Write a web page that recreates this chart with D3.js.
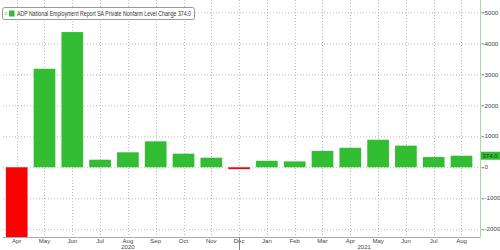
<!DOCTYPE html>
<html><head><meta charset="utf-8">
<script src="https://cdn.jsdelivr.net/npm/d3@7"></script>
<style>body{margin:0;background:#fff}svg{display:block}text{font-family:"Liberation Sans Narrow","Liberation Sans",Arial,sans-serif}</style>
</head><body><div id="c"></div>
<script>
const months = ["Apr","May","Jun","Jul","Aug","Sep","Oct","Nov","Dec","Jan","Feb","Mar","Apr","May","Jun","Jul","Aug"];
const years = ["2020","2020","2020","2020","2020","2020","2020","2020","2020","2021","2021","2021","2021","2021","2021","2021","2021"];
const values = [-19500,3180,4365,245,484,838,440,310,-60,210,190,530,630,890,700,330,374];
const yTicks = [-2000,-1000,0,1000,2000,3000,4000,5000];
const seriesName = "ADP National Employment Report SA Private Nonfarm Level Change 374.0";
const lastLabel = "374.0";

const W=500,H=250;
const plot={l:3,r:480.5,t:0,b:237};
const svg=d3.select("#c").append("svg").attr("width",W).attr("height",H);
const keys=months.map((m,i)=>i);
const x=d3.scaleBand().domain(keys).range([2.8,475.4]).paddingInner(0.22).paddingOuter(0.11);
const y=d3.scaleLinear().domain([-2250,5400]).range([plot.b,plot.t]);

svg.append("defs").append("clipPath").attr("id","cp").append("rect")
  .attr("x",plot.l).attr("y",plot.t).attr("width",plot.r-plot.l).attr("height",plot.b-plot.t);

// grid
const g=svg.append("g");
g.selectAll("line.h").data(yTicks).join("line")
  .attr("x1",plot.l).attr("x2",plot.r).attr("y1",d=>y(d)+0.5).attr("y2",d=>y(d)+0.5)
  .attr("stroke","#b8b8b8").attr("stroke-width",1).attr("stroke-dasharray","1,2");
g.selectAll("line.v").data(keys).join("line")
  .attr("x1",d=>Math.round(x(d)+x.bandwidth()/2)+0.5).attr("x2",d=>Math.round(x(d)+x.bandwidth()/2)+0.5)
  .attr("y1",plot.t).attr("y2",plot.b)
  .attr("stroke","#b8b8b8").attr("stroke-width",1).attr("stroke-dasharray","1,2");

// bars
svg.append("g").attr("clip-path","url(#cp)").selectAll("rect").data(keys).join("rect")
  .attr("x",d=>x(d)).attr("width",x.bandwidth())
  .attr("y",d=>y(Math.max(0,values[d])))
  .attr("height",d=>Math.max(1.5,Math.abs(y(values[d])-y(0))))
  .attr("fill",d=>values[d]<0?"#ff0000":"#32bd32");

// bottom axis
svg.append("line").attr("x1",plot.l).attr("x2",plot.r).attr("y1",plot.b+0.5).attr("y2",plot.b+0.5).attr("stroke","#aaa");
// right axis
svg.append("line").attr("x1",plot.r).attr("x2",plot.r).attr("y1",plot.t).attr("y2",plot.b).attr("stroke","#a8d8a8");
const ya=svg.append("g");
ya.selectAll("line").data(yTicks).join("line")
  .attr("x1",plot.r+1).attr("x2",plot.r+3.5).attr("y1",d=>y(d)+0.5).attr("y2",d=>y(d)+0.5).attr("stroke","#777");
ya.selectAll("text").data(yTicks).join("text")
  .attr("x",plot.r+4).attr("y",d=>y(d)).attr("dy","0.35em").attr("font-size",6.2).attr("fill","#444").text(d=>d);

// month labels
svg.append("g").selectAll("text").data(keys).join("text")
  .attr("x",d=>x(d)+x.bandwidth()/2).attr("y",242.5).attr("text-anchor","middle")
  .attr("font-size",6).attr("fill","#444").text(d=>months[d]);
// year labels
const yrs=d3.groups(keys,d=>years[d]);
svg.append("g").selectAll("text").data(yrs).join("text")
  .attr("x",d=>(x(d[1][0])+x(d[1][d[1].length-1])+x.bandwidth())/2).attr("y",249)
  .attr("text-anchor","middle").attr("font-size",6).attr("fill","#444").text(d=>d[0]);
// year separator at Dec
const sepIdx=keys.find(i=>i>0&&years[i]!==years[i-1])-1;
svg.append("line").attr("x1",Math.round(x(sepIdx)+x.bandwidth()/2)+0.5).attr("x2",Math.round(x(sepIdx)+x.bandwidth()/2)+0.5)
  .attr("y1",plot.b).attr("y2",H).attr("stroke","#888");

// last value label
const ly=y(values[values.length-1]);
svg.append("rect").attr("x",plot.r+0.5).attr("y",ly-4).attr("width",19).attr("height",8).attr("fill","#32bd32");
svg.append("text").attr("x",plot.r+2).attr("y",ly).attr("dy","0.35em").attr("font-size",6).attr("fill","#1a3a1a").text(lastLabel);

// legend
const lg=svg.append("g");
lg.append("rect").attr("x",2.5).attr("y",7.5).attr("width",192).attr("height",12).attr("rx",2)
  .attr("fill","#fff").attr("stroke","#999");
lg.append("text").attr("x",4.5).attr("y",13.5).attr("dy","0.35em").attr("font-size",5).attr("fill","#999").text("≡");
lg.append("rect").attr("x",9).attr("y",10.5).attr("width",5.5).attr("height",6).attr("fill","#32bd32");
lg.append("text").attr("x",17).attr("y",13.5).attr("dy","0.35em").attr("font-size",6.5).attr("fill","#333")
  .attr("textLength",174).attr("lengthAdjust","spacingAndGlyphs").text(seriesName);
</script></body></html>
